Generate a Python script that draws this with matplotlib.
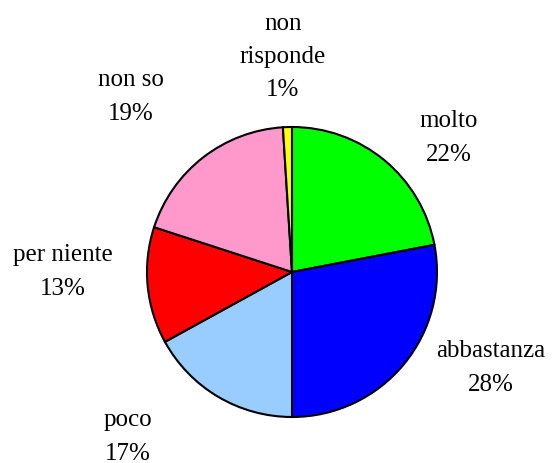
import matplotlib.pyplot as plt

labels = ['molto', 'abbastanza', 'poco', 'per niente', 'non so', 'non\nrisponde']
values = [22, 28, 17, 13, 19, 1]
colors = ['#00ff00', '#0000ff', '#99ccff', '#ff0000', '#ff99cc', '#ffff00']

# label block centres in pixel coords (from top-left)
label_pos = [(449, 138), (491, 368), (128, 437), (63, 272), (131, 97), (283, 57)]

plt.rcParams['font.family'] = ['Liberation Serif', 'DejaVu Serif']

W, H = 553, 464
fig = plt.figure(figsize=(W / 100, H / 100), dpi=100)
ax = fig.add_axes([0, 0, 1, 1])

ax.pie(values, colors=colors, startangle=90, counterclock=False,
       center=(292, H - 273), radius=145, frame=True,
       wedgeprops=dict(edgecolor='black', linewidth=1.5))
ax.set_xlim(0, W)
ax.set_ylim(0, H)
ax.set_aspect('equal')
ax.axis('off')

for lab, v, (x, y) in zip(labels, values, label_pos):
    ax.text(x, H - y, f'{lab}\n{v}%', ha='center', va='center',
            fontsize=18, linespacing=1.67)

fig.savefig('out.png', dpi=100)
